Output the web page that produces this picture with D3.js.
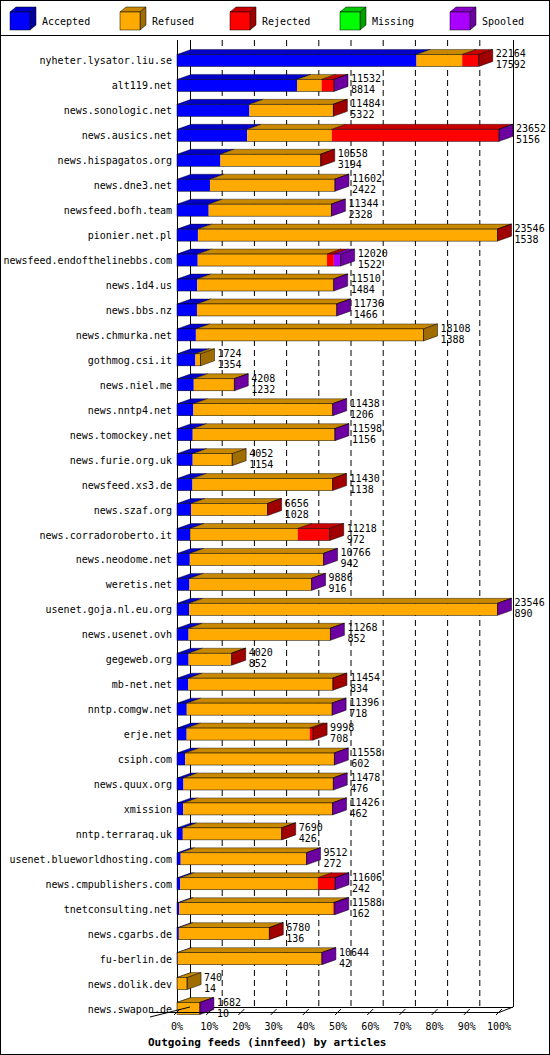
<!DOCTYPE html>
<html lang="en">
<head>
<meta charset="UTF-8">
<title>innfeed</title>
<script src="https://cdn.jsdelivr.net/npm/d3@7/dist/d3.min.js"></script>
<style>body{margin:0;background:#fff}text{font-family:"DejaVu Sans Mono",monospace}</style>
</head>
<body>
<svg width="550" height="1055" id="mainsvg"></svg>
<script>
const hosts = ['nyheter.lysator.liu.se','alt119.net','news.sonologic.net','news.ausics.net','news.hispagatos.org','news.dne3.net','newsfeed.bofh.team','pionier.net.pl','newsfeed.endofthelinebbs.com','news.1d4.us','news.bbs.nz','news.chmurka.net','gothmog.csi.it','news.niel.me','news.nntp4.net','news.tomockey.net','news.furie.org.uk','newsfeed.xs3.de','news.szaf.org','news.corradoroberto.it','news.neodome.net','weretis.net','usenet.goja.nl.eu.org','news.usenet.ovh','gegeweb.org','mb-net.net','nntp.comgw.net','erje.net','csiph.com','news.quux.org','xmission','nntp.terraraq.uk','usenet.blueworldhosting.com','news.cmpublishers.com','tnetconsulting.net','news.cgarbs.de','fu-berlin.de','news.dolik.dev','news.swapon.de'];
const totals = [22164,11532,11484,23652,10558,11602,11344,23546,12020,11510,11736,18108,1724,4208,11438,11598,4052,11430,6656,11218,10766,9886,23546,11268,4020,11454,11396,9998,11558,11478,11426,7690,9512,11606,11588,6780,10644,740,1682];
const accepted = [17592,8814,5322,5156,3194,2422,2328,1538,1522,1484,1466,1388,1354,1232,1206,1156,1154,1138,1028,972,942,916,890,852,852,834,718,708,602,476,462,426,272,242,162,136,42,14,10];
const rejected = [1215,905,30,12270,20,0,0,20,500,0,0,0,0,0,0,0,0,20,20,2350,0,0,0,0,20,20,0,250,0,0,0,20,0,1250,100,20,0,0,0];
const missing = new Array(39).fill(0);
const spooled = [0,5,0,10,0,10,10,0,500,10,10,0,0,10,10,10,0,0,0,0,10,10,10,10,0,0,10,0,10,10,10,0,10,10,10,0,10,0,10];
const refused = totals.map((t,i) => t - accepted[i] - rejected[i] - missing[i] - spooled[i]);
const seriesNames = ['Accepted','Refused','Rejected','Missing','Spooled'];
const pctTicks = [0,10,20,30,40,50,60,70,80,90,100];

const front = ['#0000ff','#ffaa00','#ff0000','#00ff00','#aa00ff'];
const topc = ['#0000c8','#c88800','#c80000','#00c800','#8800c8'];
const side = ['#0000a0','#a06d00','#a00000','#00a000','#6d00a0'];

const svg = d3.select('#mainsvg');
const DX = 14, DY = 5, BH = 12;
const x = d3.scaleLinear().domain([0, d3.max(totals)]).range([177, 499]);
const y = d3.scaleBand().domain(hosts).range([48, 1021]);
const xp = d3.scaleLinear().domain([0,100]).range([177, 499]);

// frame
svg.append('rect').attr('x',0.5).attr('y',0.5).attr('width',549).attr('height',1054).attr('fill','none').attr('stroke','#000');
svg.append('line').attr('x1',0).attr('x2',550).attr('y1',35.5).attr('y2',35.5).attr('stroke','#000');

// legend
seriesNames.forEach((n,i) => {
  const lx = 10 + i*110, ly = 12;
  svg.append('polygon').attr('points',`${lx},${ly} ${lx+6},${ly-5} ${lx+26},${ly-5} ${lx+20},${ly}`).attr('fill',topc[i]).attr('stroke','#000').attr('stroke-width',0.5);
  svg.append('polygon').attr('points',`${lx+20},${ly} ${lx+26},${ly-5} ${lx+26},${ly+13} ${lx+20},${ly+18}`).attr('fill',side[i]).attr('stroke','#000').attr('stroke-width',0.5);
  svg.append('rect').attr('x',lx).attr('y',ly).attr('width',20).attr('height',18).attr('fill',front[i]).attr('stroke','#000').attr('stroke-width',0.5);
  svg.append('text').attr('x',lx+32).attr('y',ly+13).attr('font-size',10).text(n);
});

// back grid
const bottomY = 1007;
pctTicks.slice(1,-1).forEach(p => {
  svg.append('line').attr('x1',xp(p)+DX-1).attr('x2',xp(p)+DX-1).attr('y1',40).attr('y2',bottomY)
    .attr('stroke','#000').attr('stroke-dasharray','6,4');
});
svg.append('line').attr('x1',190.5).attr('x2',190.5).attr('y1',40).attr('y2',bottomY).attr('stroke','#000');
svg.append('line').attr('x1',513.5).attr('x2',513.5).attr('y1',40).attr('y2',bottomY).attr('stroke','#000');
svg.append('line').attr('x1',190).attr('x2',513).attr('y1',bottomY+0.5).attr('y2',bottomY+0.5).attr('stroke','#000');
svg.append('line').attr('x1',177.5).attr('x2',177.5).attr('y1',40).attr('y2',1012).attr('stroke','#000');

// bars
const series = [accepted, refused, rejected, missing, spooled];
hosts.forEach((h,i) => {
  const yc = y(h) + y.bandwidth()/2;
  const y0 = yc - BH/2;
  let cum = 0, last = 0;
  series.forEach((s,k) => {
    const v = s[i]; if (v <= 0) return;
    const a = x(cum), b = x(cum + v);
    svg.append('polygon').attr('points',`${a},${y0} ${a+DX},${y0-DY} ${b+DX},${y0-DY} ${b},${y0}`)
      .attr('fill',topc[k]).attr('stroke','#000').attr('stroke-width',0.4);
    svg.append('rect').attr('x',a).attr('y',y0).attr('width',b-a).attr('height',BH).attr('fill',front[k]);
    cum += v; last = k;
  });
  const e = x(cum);
  svg.append('polygon').attr('points',`${e},${y0} ${e+DX},${y0-DY} ${e+DX},${y0+BH-DY} ${e},${y0+BH}`)
    .attr('fill',side[last]).attr('stroke','#000').attr('stroke-width',0.5);
  svg.append('rect').attr('x',x(0)).attr('y',y0).attr('width',e-x(0)).attr('height',BH).attr('fill','none').attr('stroke','#000').attr('stroke-width',0.5);
  svg.append('text').attr('x',172).attr('y',yc+4).attr('text-anchor','end').attr('font-size',10).text(h);
  svg.append('text').attr('x',e+DX+3).attr('y',yc-3).attr('font-size',10).text(totals[i]);
  svg.append('text').attr('x',e+DX+3).attr('y',yc+8).attr('font-size',10).text(accepted[i]);
});

// front axis
svg.append('line').attr('x1',150).attr('x2',499).attr('y1',1012.5).attr('y2',1012.5).attr('stroke','#000');
svg.append('line').attr('x1',150).attr('x2',190).attr('y1',1017).attr('y2',1007).attr('stroke','#000');
svg.append('line').attr('x1',499).attr('x2',513).attr('y1',1012.5).attr('y2',1007).attr('stroke','#000');
pctTicks.forEach(p => {
  const tx = xp(p);
  svg.append('line').attr('x1',tx-3).attr('x2',tx+3).attr('y1',1015).attr('y2',1009).attr('stroke','#000');
  svg.append('text').attr('x',tx).attr('y',1030).attr('text-anchor','middle').attr('font-size',10).text(p + '%');
});
svg.append('text').attr('x',148).attr('y',1046).attr('font-size',11).attr('font-weight','bold').text('Outgoing feeds (innfeed) by articles');
</script>
</body>
</html>
